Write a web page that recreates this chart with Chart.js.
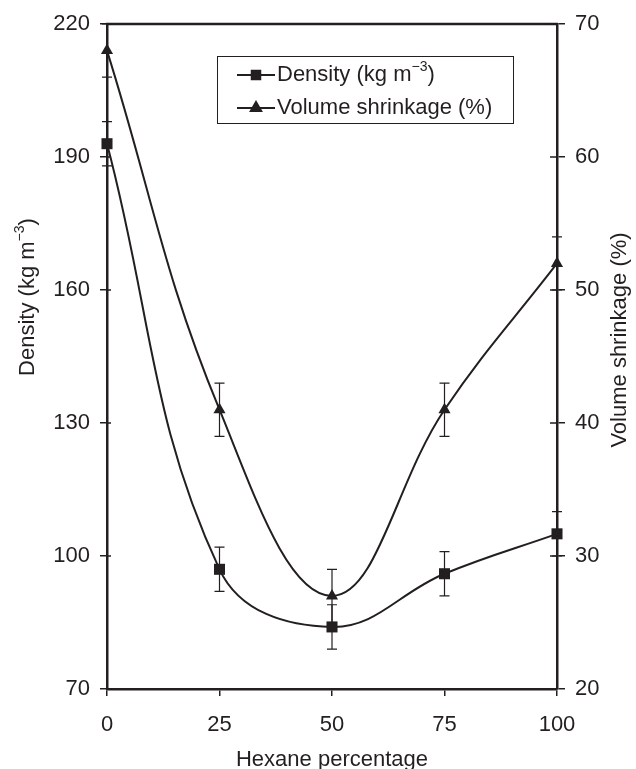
<!DOCTYPE html>
<html>
<head>
<meta charset="utf-8">
<script src="https://cdn.jsdelivr.net/npm/chart.js@4.4.0/dist/chart.umd.min.js"></script>
<style>
  body { margin: 0; background: #fff; }
  #wrap { position: relative; width: 636px; height: 769px; }
</style>
</head>
<body>
<div id="wrap"><canvas id="myChart"></canvas></div>
<script>
// data
var hexane = [0, 25, 50, 75, 100];
var density = [193, 97, 84, 96, 105];
var densityErr = [5, 5, 5, 5, 5];
var shrinkage = [68, 41, 27, 41, 52];
var shrinkageErr = [2, 2, 2, 2, 2];
var xTicks = [0, 25, 50, 75, 100];
var densityTicks = [70, 100, 130, 160, 190, 220];
var shrinkTicks = [20, 30, 40, 50, 60, 70];

var ink = '#231f20';
var fontFamily = '"Liberation Sans", Arial, Helvetica, sans-serif';
var fontSize = 22;

// draws text pieces, some as superscript
function richText(ctx, parts, x, y, align) {
  var total = 0;
  parts.forEach(function (p) {
    ctx.font = (p.sup ? Math.round(fontSize * 0.62) : fontSize) + 'px ' + fontFamily;
    p.w = ctx.measureText(p.t).width;
    total += p.w;
  });
  var cx = align === 'left' ? x : x - total / 2;
  ctx.textAlign = 'left';
  ctx.textBaseline = 'middle';
  parts.forEach(function (p) {
    ctx.font = (p.sup ? Math.round(fontSize * 0.62) : fontSize) + 'px ' + fontFamily;
    ctx.fillText(p.t, cx, p.sup ? y - 8 : y);
    cx += p.w;
  });
}

var extras = {
  id: 'extras',
  beforeDatasetsDraw: function (chart) {
    var ctx = chart.ctx, xs = chart.scales.x;
    ctx.save();
    ctx.strokeStyle = ink;
    ctx.lineWidth = 1.2;
    [[density, densityErr, 'y'], [shrinkage, shrinkageErr, 'y1']].forEach(function (s) {
      var sc = chart.scales[s[2]];
      for (var i = 0; i < hexane.length; i++) {
        var px = xs.getPixelForValue(hexane[i]);
        var top = sc.getPixelForValue(s[0][i] + s[1][i]);
        var bot = sc.getPixelForValue(s[0][i] - s[1][i]);
        ctx.beginPath();
        ctx.moveTo(px, top); ctx.lineTo(px, bot);
        ctx.moveTo(px - 5, top); ctx.lineTo(px + 5, top);
        ctx.moveTo(px - 5, bot); ctx.lineTo(px + 5, bot);
        ctx.stroke();
      }
    });
    ctx.restore();
  },
  afterDraw: function (chart) {
    var ctx = chart.ctx, a = chart.chartArea;
    var yl = chart.scales.y, yr = chart.scales.y1;
    ctx.save();
    ctx.strokeStyle = ink;
    ctx.fillStyle = ink;
    // top frame line
    ctx.lineWidth = 2.5;
    ctx.beginPath();
    ctx.moveTo(a.left - 1, a.top); ctx.lineTo(a.right + 1, a.top);
    ctx.stroke();
    // inner parts of the y ticks
    ctx.lineWidth = 1.5;
    ctx.beginPath();
    yl.ticks.forEach(function (t) {
      var py = yl.getPixelForValue(t.value);
      ctx.moveTo(a.left, py); ctx.lineTo(a.left + 4, py);
    });
    yr.ticks.forEach(function (t) {
      var py = yr.getPixelForValue(t.value);
      ctx.moveTo(a.right - 7, py); ctx.lineTo(a.right, py);
    });
    ctx.stroke();

    // axis titles
    richText(ctx, [{ t: 'Hexane percentage' }], (a.left + a.right) / 2, 760, 'center');
    ctx.save();
    ctx.translate(28, 297);
    ctx.rotate(-Math.PI / 2);
    richText(ctx, [{ t: 'Density (kg m' }, { t: '\u22123', sup: true }, { t: ')' }], 0, 0, 'center');
    ctx.restore();
    ctx.save();
    ctx.translate(620, 340);
    ctx.rotate(-Math.PI / 2);
    richText(ctx, [{ t: 'Volume shrinkage (%)' }], 0, 0, 'center');
    ctx.restore();

    // legend box
    var bx = 217, by = 56, bw = 296, bh = 67;
    ctx.fillStyle = '#fff';
    ctx.fillRect(bx, by, bw, bh);
    ctx.lineWidth = 1;
    ctx.strokeRect(bx + 0.5, by + 0.5, bw, bh);
    ctx.fillStyle = ink;
    var rows = [
      { y: 75, style: 'rect', parts: [{ t: 'Density (kg m' }, { t: '\u22123', sup: true }, { t: ')' }] },
      { y: 108, style: 'triangle', parts: [{ t: 'Volume shrinkage (%)' }] }
    ];
    rows.forEach(function (r) {
      ctx.lineWidth = 2;
      ctx.beginPath();
      ctx.moveTo(237, r.y); ctx.lineTo(275, r.y);
      ctx.stroke();
      Chart.helpers.drawPoint(ctx, { pointStyle: r.style, radius: r.style === 'rect' ? 6 : 6, rotation: 0, borderWidth: 1 }, 256, r.y);
      ctx.fill();
      richText(ctx, r.parts, 277, r.y, 'left');
    });
    ctx.restore();
  }
};

var data = {
  datasets: [{
    label: 'Density (kg m\u207b\u00b3)',
    data: hexane.map(function (h, i) { return { x: h, y: density[i] }; }),
    yAxisID: 'y',
    borderColor: ink,
    backgroundColor: ink,
    borderWidth: 2,
    pointStyle: 'rect',
    pointRadius: 7.8,
    pointBorderWidth: 0,
    tension: 0.4,
    clip: false
  }, {
    label: 'Volume shrinkage (%)',
    data: hexane.map(function (h, i) { return { x: h, y: shrinkage[i] }; }),
    yAxisID: 'y1',
    borderColor: ink,
    backgroundColor: ink,
    borderWidth: 2,
    pointStyle: 'triangle',
    pointRadius: 7,
    pointBorderWidth: 0,
    tension: 0.4,
    clip: false
  }]
};

function tickFont() { return { family: fontFamily, size: fontSize }; }

var config = {
  type: 'line',
  data: data,
  plugins: [extras],
  options: {
    responsive: true,
    maintainAspectRatio: false,
    animation: false,
    layout: { padding: { top: 24, left: 0, right: 0, bottom: 0 } },
    plugins: { legend: { display: false }, tooltip: { enabled: false } },
    scales: {
      x: {
        type: 'linear',
        min: 0, max: 100,
        afterBuildTicks: function (s) { s.ticks = xTicks.map(function (v) { return { value: v }; }); },
        afterFit: function (s) { s.height = 80; },
        border: { display: true, color: ink, width: 2.5 },
        grid: { drawOnChartArea: false, drawTicks: true, tickLength: 7, color: ink, lineWidth: 1.5 },
        ticks: { color: ink, font: tickFont(), padding: 16, maxRotation: 0 }
      },
      y: {
        position: 'left',
        min: 70, max: 220,
        afterBuildTicks: function (s) { s.ticks = densityTicks.map(function (v) { return { value: v }; }); },
        afterFit: function (s) { s.width = 107; },
        border: { display: true, color: ink, width: 2.5 },
        grid: { drawOnChartArea: false, drawTicks: true, tickLength: 7, color: ink, lineWidth: 1.5 },
        ticks: { color: ink, font: tickFont(), padding: 10 }
      },
      y1: {
        position: 'right',
        min: 20, max: 70,
        afterBuildTicks: function (s) { s.ticks = shrinkTicks.map(function (v) { return { value: v }; }); },
        afterFit: function (s) { s.width = 79; },
        border: { display: true, color: ink, width: 2.5 },
        grid: { drawOnChartArea: false, drawTicks: true, tickLength: 8, color: ink, lineWidth: 1.5 },
        ticks: { color: ink, font: tickFont(), padding: 10 }
      }
    }
  }
};

var myChart = new Chart(document.getElementById('myChart'), config);
</script>
</body>
</html>
